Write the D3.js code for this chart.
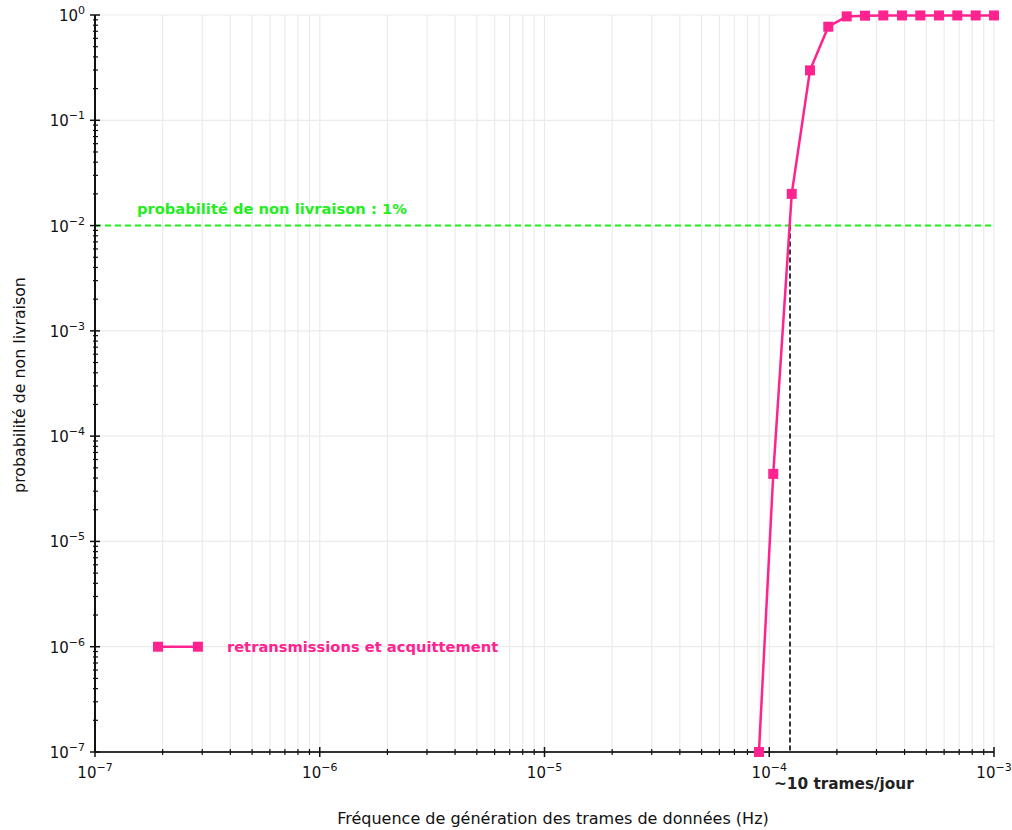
<!DOCTYPE html>
<html><head><meta charset="utf-8">
<script src="https://cdn.jsdelivr.net/npm/d3@7"></script>
<style>
body{margin:0;background:#fff;}
svg{display:block;}
text{font-family:"DejaVu Sans",sans-serif;}
</style></head>
<body><svg id="c" width="1012" height="830"></svg>
<script>
// Data
const freqHz = [9.0e-5, 1.042e-4, 1.259e-4, 1.518e-4, 1.831e-4, 2.211e-4, 2.667e-4, 3.217e-4, 3.896e-4, 4.699e-4, 5.69e-4, 6.864e-4, 8.289e-4, 1e-3];
const probNonDelivery = [1e-7, 4.38e-5, 0.02, 0.298, 0.774, 0.97, 0.985, 0.99, 0.99, 0.99, 0.99, 0.99, 0.99, 0.99];
const seriesName = "retransmissions et acquittement";
const thresholdProb = 0.01;
const thresholdLabel = "probabilité de non livraison : 1%";
const thresholdFreq = 1.237e-4;
const thresholdFreqLabel = "~10 trames/jour";
const xTickExps = [-7, -6, -5, -4, -3];
const yTickExps = [0, -1, -2, -3, -4, -5, -6, -7];
const legendX = [1.907e-7, 2.87e-7];
const legendY = 1e-6;
const xLabel = "Fréquence de génération des trames de données (Hz)";
const yLabel = "probabilité de non livraison";

const pink = "#ff2390", green = "#22ee22";
const svg = d3.select("#c");
const L = 95, R = 994, T = 15, B = 752;
const x = d3.scaleLog().domain([1e-7, 1e-3]).range([L, R]);
const y = d3.scaleLog().domain([1e-7, 1]).range([B, T]);

// minor values
const xMinor = [], yMinor = [];
for (let e = -7; e < -3; e++) for (let m = 2; m <= 9; m++) xMinor.push(m * Math.pow(10, e));
for (let e = -7; e < 0; e++) for (let m = 2; m <= 9; m++) yMinor.push(m * Math.pow(10, e));
const xMajor = xTickExps.map(e => Math.pow(10, e));
const yMajor = yTickExps.map(e => Math.pow(10, e));

// grid
const g = svg.append("g");
g.selectAll(".vg").data(xMajor.concat(xMinor)).join("line")
  .attr("x1", d => x(d)).attr("x2", d => x(d)).attr("y1", T).attr("y2", B)
  .attr("stroke", "#ebebeb").attr("stroke-width", 1.2);
g.selectAll(".hg").data(yMajor).join("line")
  .attr("x1", L).attr("x2", R).attr("y1", d => y(d)).attr("y2", d => y(d))
  .attr("stroke", "#ebebeb").attr("stroke-width", 1.2);

// threshold line
svg.append("line").attr("x1", L).attr("x2", R).attr("y1", y(thresholdProb)).attr("y2", y(thresholdProb))
  .attr("stroke", green).attr("stroke-width", 2).attr("stroke-dasharray", "6,4");
svg.append("text").attr("x", L + 42).attr("y", y(thresholdProb) - 12)
  .attr("fill", green).attr("font-weight", "bold").attr("font-size", 14.7).text(thresholdLabel);

svg.append("line").attr("x1", x(thresholdFreq)).attr("x2", x(thresholdFreq)).attr("y1", y(thresholdProb)).attr("y2", B)
  .attr("stroke", "#333").attr("stroke-width", 2).attr("stroke-dasharray", "5,3");

// axes
const ax = svg.append("g");
ax.append("line").attr("x1", L).attr("x2", R).attr("y1", B).attr("y2", B).attr("stroke", "#333").attr("stroke-width", 2);
ax.append("line").attr("x1", L).attr("x2", L).attr("y1", T).attr("y2", B).attr("stroke", "#111").attr("stroke-width", 2);
ax.selectAll(".xm").data(xMajor).join("line").attr("x1", d => x(d)).attr("x2", d => x(d)).attr("y1", B - 5).attr("y2", B + 5).attr("stroke", "#111").attr("stroke-width", 1.5);
ax.selectAll(".xn").data(xMinor).join("line").attr("x1", d => x(d)).attr("x2", d => x(d)).attr("y1", B - 3).attr("y2", B + 3).attr("stroke", "#111").attr("stroke-width", 1.2);
ax.selectAll(".ym").data(yMajor).join("line").attr("y1", d => y(d)).attr("y2", d => y(d)).attr("x1", L - 5).attr("x2", L + 5).attr("stroke", "#111").attr("stroke-width", 1.5);
ax.selectAll(".yn").data(yMinor).join("line").attr("y1", d => y(d)).attr("y2", d => y(d)).attr("x1", L - 2).attr("x2", L + 3).attr("stroke", "#111").attr("stroke-width", 1.2);

function pow10(sel, e) {
  sel.append("tspan").text("10");
  sel.append("tspan").attr("dy", -7).attr("font-size", 11).text(e === 0 ? "0" : "\u2212" + Math.abs(e));
}
ax.selectAll(".xl").data(xTickExps).join("text")
  .attr("x", d => x(Math.pow(10, d))).attr("y", B + 26).attr("text-anchor", "middle")
  .attr("font-size", 15).attr("fill", "#111").each(function(d){ pow10(d3.select(this), d); });
ax.selectAll(".yl").data(yTickExps).join("text")
  .attr("x", L - 10).attr("y", d => y(Math.pow(10, d)) + 6).attr("text-anchor", "end")
  .attr("font-size", 15).attr("fill", "#111").each(function(d){ pow10(d3.select(this), d); });

svg.append("text").attr("x", x(thresholdFreq) - 16).attr("y", B + 37).attr("font-weight", "bold")
  .attr("font-size", 15.3).attr("fill", "#222").text(thresholdFreqLabel);

svg.append("text").attr("x", 553).attr("y", 824).attr("text-anchor", "middle")
  .attr("font-size", 16).attr("fill", "#111").text(xLabel);
svg.append("text").attr("transform", `translate(25,385) rotate(-90)`).attr("text-anchor", "middle")
  .attr("font-size", 15.8).attr("fill", "#111").text(yLabel);

// series
const pts = freqHz.map((f, i) => [f, probNonDelivery[i]]);
const line = d3.line().x(d => x(d[0])).y(d => y(d[1]));
svg.append("path").attr("d", line(pts)).attr("fill", "none").attr("stroke", pink).attr("stroke-width", 2.5);
svg.selectAll(".pt").data(pts).join("rect")
  .attr("x", d => x(d[0]) - 5).attr("y", d => y(d[1]) - 5).attr("width", 10).attr("height", 10).attr("fill", pink);

// legend
const lp = legendX.map(v => [v, legendY]);
svg.append("path").attr("d", line(lp)).attr("stroke", pink).attr("stroke-width", 2.5);
svg.selectAll(".lg").data(lp).join("rect")
  .attr("x", d => x(d[0]) - 5).attr("y", d => y(d[1]) - 5).attr("width", 10).attr("height", 10).attr("fill", pink);
svg.append("text").attr("x", x(legendX[1]) + 29).attr("y", y(legendY) + 5).attr("font-weight", "bold")
  .attr("font-size", 14.7).attr("fill", pink).text(seriesName);
</script></body></html>
